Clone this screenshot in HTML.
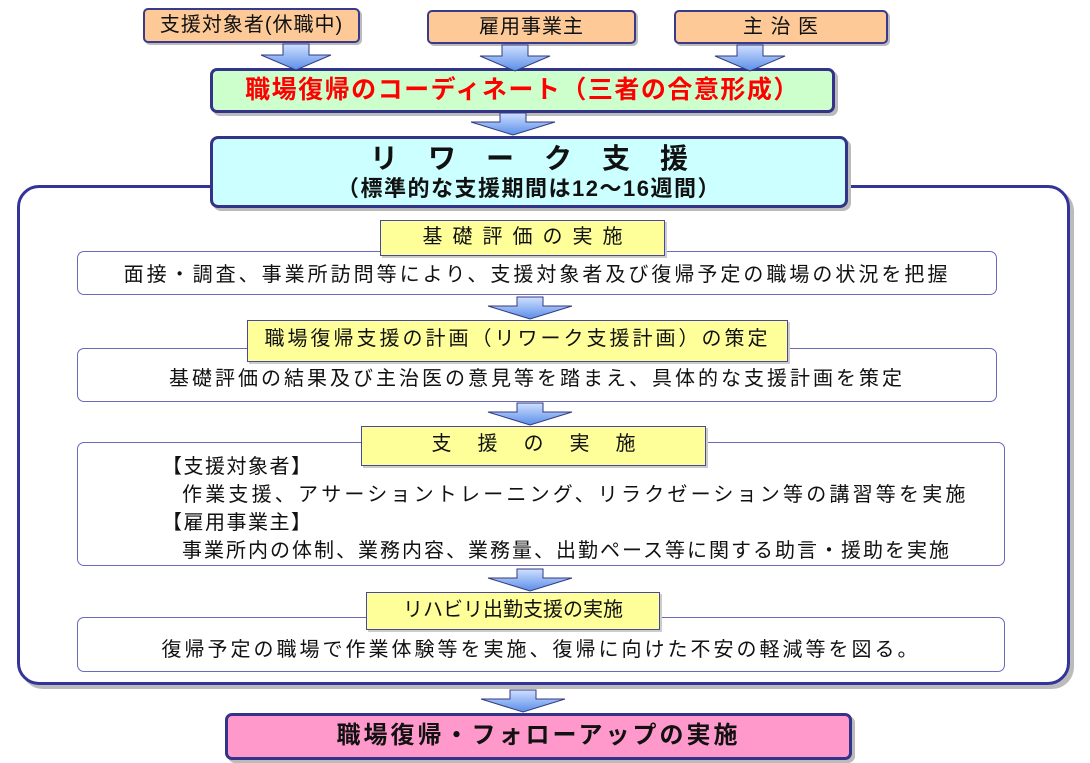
<!DOCTYPE html>
<html><head><meta charset="utf-8"><style>
body{margin:0;width:1090px;height:763px;background:#fff;position:relative;overflow:hidden;font-family:"Liberation Sans","Noto Sans CJK JP",sans-serif;color:#111}
.a{position:absolute;box-sizing:border-box}
.top{background:#fdca97;border:2px solid #3a3a8c;border-radius:5px;font-size:20px;text-align:center;line-height:30px;box-shadow:2px 2px 0 #bbb;letter-spacing:1px}
.w{background:#fff;border:1.5px solid #6a6ab8;border-radius:7px;font-size:20px;text-align:center;letter-spacing:3px}
.y{background:#ffff99;border:1.5px solid #4848a0;font-size:20px;text-align:center;box-shadow:2px 2px 0 #ccc}
svg{position:absolute;z-index:5}
</style></head><body>
<div class="a top" style="left:143px;top:8px;width:217px;height:35px">支援対象者(休職中)</div>
<div class="a top" style="left:427px;top:10px;width:209px;height:34px">雇用事業主</div>
<div class="a top" style="left:674px;top:10px;width:214px;height:34px">主 治 医</div>

<div class="a" style="left:210px;top:68px;width:625px;height:45px;background:#ccffcc;border:3px solid #33338a;border-radius:7px;color:#f00;font-weight:bold;font-size:25px;letter-spacing:1.5px;text-align:center;line-height:39px;box-shadow:3px 3px 0 #bbb">職場復帰のコーディネート（三者の合意形成）</div>

<div class="a" style="left:21px;top:189px;width:1053px;height:500px;border-radius:22px;background:#bbb"></div>
<div class="a" style="left:17px;top:185px;width:1053px;height:500px;border:3px solid #33339a;border-radius:22px;background:#fff"></div>

<div class="a" style="left:210px;top:136px;width:638px;height:72px;background:#ccffff;border:3px solid #33338a;border-radius:8px;text-align:center;font-weight:bold;box-shadow:3px 3px 0 #bbb">
<div style="font-size:28px;letter-spacing:30px;margin-top:3px;line-height:33px;padding-left:30px">リワーク支援</div>
<div style="font-size:22px;line-height:28px;letter-spacing:1.5px">（標準的な支援期間は12～16週間）</div></div>

<div class="a w" style="left:77px;top:251px;width:920px;height:44px;line-height:46px">面接・調査、事業所訪問等により、支援対象者及び復帰予定の職場の状況を把握</div>
<div class="a y" style="left:380px;top:220px;width:285px;height:36px;line-height:32px;letter-spacing:10px;padding-left:10px">基礎評価の実施</div>

<div class="a w" style="left:77px;top:348px;width:920px;height:54px;line-height:60px">基礎評価の結果及び主治医の意見等を踏まえ、具体的な支援計画を策定</div>
<div class="a y" style="left:247px;top:320px;width:541px;height:42px;line-height:36px;letter-spacing:3px">職場復帰支援の計画（リワーク支援計画）の策定</div>

<div class="a w" style="left:77px;top:442px;width:928px;height:124px;text-align:left;line-height:28px;padding-top:10px;letter-spacing:1.5px">
<div style="padding-left:84px">【支援対象者】</div>
<div style="padding-left:104px;letter-spacing:3.2px">作業支援、アサーショントレーニング、リラクゼーション等の講習等を実施</div>
<div style="padding-left:84px">【雇用事業主】</div>
<div style="padding-left:104px;letter-spacing:2px">事業所内の体制、業務内容、業務量、出勤ペース等に関する助言・援助を実施</div></div>
<div class="a y" style="left:361px;top:426px;width:345px;height:40px;line-height:34px;letter-spacing:26px;padding-left:26px">支援の実施</div>

<div class="a w" style="left:77px;top:617px;width:928px;height:55px;line-height:64px">復帰予定の職場で作業体験等を実施、復帰に向けた不安の軽減等を図る。</div>
<div class="a y" style="left:366px;top:592px;width:294px;height:38px;line-height:34px">リハビリ出勤支援の実施</div>

<div class="a" style="left:225px;top:713px;width:627px;height:47px;background:#ff99cc;border:3px solid #33338a;border-radius:7px;font-weight:bold;font-size:24px;letter-spacing:3px;text-align:center;line-height:40px;box-shadow:3px 3px 0 #bbb">職場復帰・フォローアップの実施</div>

<svg width="1090" height="763" style="left:0;top:0">
<defs><linearGradient id="g" x1="0" y1="0" x2="0" y2="1"><stop offset="0" stop-color="#d0e0ff"/><stop offset="1" stop-color="#5a8ee8"/></linearGradient></defs>
<g fill="url(#g)" stroke="#333a80" stroke-width="1">
<path d="M-13,0 H13 V11 H35 L0,26 L-35,11 H-13 Z" transform="translate(296,44)"/>
<path d="M-13,0 H13 V11 H35 L0,26 L-35,11 H-13 Z" transform="translate(515,45)"/>
<path d="M-13,0 H13 V11 H35 L0,26 L-35,11 H-13 Z" transform="translate(750,45)"/>
<path d="M-13,0 H13 V9 H42 L0,22 L-42,9 H-13 Z" transform="translate(513,113)"/>
<path d="M-13,0 H13 V9 H42 L0,22 L-42,9 H-13 Z" transform="translate(530,297)"/>
<path d="M-13,0 H13 V9 H42 L0,22 L-42,9 H-13 Z" transform="translate(530,403)"/>
<path d="M-13,0 H13 V9 H42 L0,22 L-42,9 H-13 Z" transform="translate(530,569)"/>
<path d="M-13,0 H13 V9 H42 L0,22 L-42,9 H-13 Z" transform="translate(523,690)"/>
</g></svg>
</body></html>
